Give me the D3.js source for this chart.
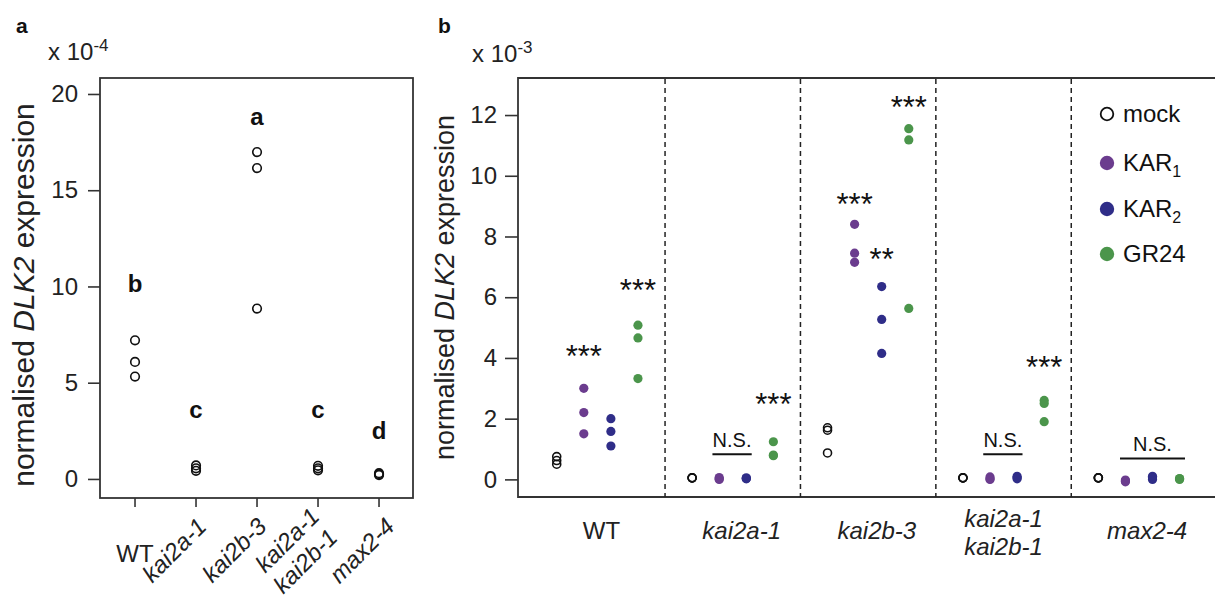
<!DOCTYPE html>
<html>
<head>
<meta charset="utf-8">
<script src="https://cdn.jsdelivr.net/npm/d3@7"></script>
<style>
  html, body { margin: 0; padding: 0; background: #fff; }
  svg { display: block; font-family: "Liberation Sans", Arial, Helvetica, sans-serif; }
</style>
</head>
<body>
<svg id="chart" width="1215" height="598"></svg>
<script>
// ---------------- DATA ----------------
// Panel a
const aCategories = [["WT"], ["kai2a-1"], ["kai2b-3"], ["kai2a-1", "kai2b-1"], ["max2-4"]];
const aValues = [
  [7.2, 6.08, 5.32],
  [0.7, 0.55, 0.42],
  [16.98, 16.15, 8.85],
  [0.68, 0.55, 0.45],
  [0.3, 0.25, 0.2]
];
const aLetters = ["b", "c", "a", "c", "d"];
const aLetterValues = [9.7, 3.15, 18.4, 3.15, 2.06];
const aTicks = [0, 5, 10, 15, 20];

// Panel b
const bGroups = [["WT"], ["kai2a-1"], ["kai2b-3"], ["kai2a-1", "kai2b-1"], ["max2-4"]];
const bTreatments = ["mock", "KAR1", "KAR2", "GR24"];
const bMock = [[0.75, 0.62, 0.5], [0.05, 0.05, 0.05], [1.7, 1.62, 0.87], [0.05, 0.05, 0.05], [0.05, 0.05, 0.05]];
const bKAR1 = [[3.0, 2.2, 1.5], [0.02, 0.06, 0.0], [8.4, 7.45, 7.15], [0.0, 0.08, 0.02], [-0.05, -0.02, -0.08]];
const bKAR2 = [[2.0, 1.58, 1.1], [0.03, 0.05, 0.02], [6.35, 5.27, 4.15], [0.05, 0.1, 0.02], [0.0, 0.1, 0.05]];
const bGR24 = [[5.08, 4.66, 3.32], [1.24, 0.8, 0.78], [11.55, 11.18, 5.63], [2.6, 2.5, 1.9], [0.02, 0.0, 0.03]];
const bTicks = [0, 2, 4, 6, 8, 10, 12];
// significance stars: group, treatment index, value at glyph centre
const bStars = [
  { g: 0, t: 1, v: 4.3, s: "***" },
  { g: 0, t: 3, v: 6.45, s: "***" },
  { g: 1, t: 3, v: 2.7, s: "***" },
  { g: 2, t: 1, v: 9.3, s: "***" },
  { g: 2, t: 2, v: 7.48, s: "**" },
  { g: 2, t: 3, v: 12.48, s: "***" },
  { g: 3, t: 3, v: 3.92, s: "***" }
];
// N.S. annotations: group, bar from/to treatment index, text value, line value
const bNS = [
  { g: 1, from: 0.75, to: 2.2, tv: 1.31, lv: 0.83 },
  { g: 3, from: 0.75, to: 2.2, tv: 1.31, lv: 0.83 },
  { g: 4, from: 0.8, to: 3.2, tv: 1.18, lv: 0.69 }
];
const legendLabels = [["mock", ""], ["KAR", "1"], ["KAR", "2"], ["GR24", ""]];

// ---------------- STYLE ----------------
const colors = { mock: "none", KAR1: "#6b3c8e", KAR2: "#2f2d88", GR24: "#4b954b" };
const axisColor = "#333";

const svg = d3.select("#chart");

// ================= PANEL A =================
const aX = d3.scaleLinear().domain([-0.574, 4.557]).range([100, 413]);
const aY = d3.scaleLinear().domain([-0.99, 20.83]).range([498, 78]);

const gA = svg.append("g");
gA.append("rect").attr("x", aX.range()[0]).attr("y", aY.range()[1])
  .attr("width", aX.range()[1] - aX.range()[0]).attr("height", aY.range()[0] - aY.range()[1])
  .attr("fill", "none").attr("stroke", axisColor).attr("stroke-width", 1.8);

const aYAxis = gA.append("g").attr("transform", `translate(${aX.range()[0]},0)`)
  .call(d3.axisLeft(aY).tickValues(aTicks).tickSize(12).tickPadding(10).tickFormat(d3.format("d")));
aYAxis.select(".domain").remove();
aYAxis.selectAll("line").attr("stroke", axisColor).attr("stroke-width", 1.6);
aYAxis.selectAll("text").attr("font-size", 24).attr("fill", "#222").attr("font-family", "Liberation Sans, Arial, sans-serif");

// x ticks
gA.selectAll(".xtick").data(aCategories).enter().append("line")
  .attr("x1", (d, i) => aX(i)).attr("x2", (d, i) => aX(i))
  .attr("y1", 498).attr("y2", 507).attr("stroke", axisColor).attr("stroke-width", 1.6);

// x labels
const aLabelNudge = [0, 12, 11, 0, 17];
aCategories.forEach((lines, i) => {
  const x = aX(i);
  if (i === 0) {
    gA.append("text").attr("x", x).attr("y", 562).attr("text-anchor", "middle")
      .attr("font-size", 24).attr("fill", "#222").text(lines[0]);
  } else if (lines.length === 1) {
    gA.append("text").attr("transform", `translate(${x + aLabelNudge[i]},${528}) rotate(-45)`)
      .attr("text-anchor", "end").attr("font-size", 24).attr("font-style", "italic").attr("fill", "#222").text(lines[0]);
  } else {
    gA.append("text").attr("transform", `translate(${x + 3},${518}) rotate(-45)`)
      .attr("text-anchor", "end").attr("font-size", 24).attr("font-style", "italic").attr("fill", "#222").text(lines[0]);
    gA.append("text").attr("transform", `translate(${x + 21},${539}) rotate(-45)`)
      .attr("text-anchor", "end").attr("font-size", 24).attr("font-style", "italic").attr("fill", "#222").text(lines[1]);
  }
});

// points
aValues.forEach((vals, i) => {
  gA.selectAll(null).data(vals).enter().append("circle")
    .attr("cx", aX(i)).attr("cy", d => aY(d)).attr("r", 4.3)
    .attr("fill", "none").attr("stroke", "#111").attr("stroke-width", 1.6);
});
// letters
gA.selectAll(".lett").data(aLetters).enter().append("text")
  .attr("x", (d, i) => aX(i)).attr("y", (d, i) => aY(aLetterValues[i]))
  .attr("text-anchor", "middle").attr("font-weight", "bold").attr("font-size", 24).attr("fill", "#111").text(d => d);

// axis title
const aTitle = gA.append("text").attr("transform", `translate(34,${295}) rotate(-90)`)
  .attr("text-anchor", "middle").attr("font-size", 30).attr("fill", "#222");
aTitle.append("tspan").text("normalised ");
aTitle.append("tspan").attr("font-style", "italic").text("DLK2");
aTitle.append("tspan").text(" expression");

// multiplier
const aMul = gA.append("text").attr("x", 48).attr("y", 60).attr("font-size", 24).attr("fill", "#222");
aMul.append("tspan").text("x 10");
aMul.append("tspan").attr("font-size", 17).attr("dy", -9).text("-4");

// panel letter
svg.append("text").attr("x", 16).attr("y", 33).attr("font-weight", "bold").attr("font-size", 21).attr("fill", "#111").text("a");

// ================= PANEL B =================
const bX = d3.scaleLinear().domain([-1.43, 24.5]).range([518, 1220.2]);
const bY = d3.scaleLinear().domain([-0.58, 13.22]).range([497, 78]);
const kOf = (g, t) => g * 5 + t;

const gB = svg.append("g");
// frame (right edge falls outside the canvas)
gB.append("path")
  .attr("d", `M${bX.range()[1]},${bY.range()[1]} H${bX.range()[0]} V${bY.range()[0]} H${bX.range()[1]}`)
  .attr("fill", "none").attr("stroke", axisColor).attr("stroke-width", 1.8);

const bYAxis = gB.append("g").attr("transform", `translate(${bX.range()[0]},0)`)
  .call(d3.axisLeft(bY).tickValues(bTicks).tickSize(13).tickPadding(8).tickFormat(d3.format("d")));
bYAxis.select(".domain").remove();
bYAxis.selectAll("line").attr("stroke", axisColor).attr("stroke-width", 1.6);
bYAxis.selectAll("text").attr("font-size", 24).attr("fill", "#222").attr("font-family", "Liberation Sans, Arial, sans-serif");

// dashed separators
gB.selectAll(".sep").data(d3.range(1, bGroups.length)).enter().append("line")
  .attr("x1", g => bX(g * 5 - 1)).attr("x2", g => bX(g * 5 - 1))
  .attr("y1", bY.range()[1] + 1).attr("y2", bY.range()[0])
  .attr("stroke", "#222").attr("stroke-width", 1.5).attr("stroke-dasharray", "5,4");

// points
const seriesData = { mock: bMock, KAR1: bKAR1, KAR2: bKAR2, GR24: bGR24 };
bTreatments.forEach((tr, t) => {
  seriesData[tr].forEach((vals, g) => {
    const sel = gB.selectAll(null).data(vals).enter().append("circle")
      .attr("cx", bX(kOf(g, t))).attr("cy", d => bY(d));
    if (tr === "mock") {
      sel.attr("r", 4).attr("fill", "#fff").attr("stroke", "#111").attr("stroke-width", 1.6).attr("fill-opacity", 0);
    } else {
      sel.attr("r", 4.6).attr("fill", colors[tr]);
    }
  });
});

// stars
const starFs = 31;
gB.selectAll(".star").data(bStars).enter().append("text")
  .attr("x", d => bX(kOf(d.g, d.t))).attr("y", d => bY(d.v) + 0.57 * starFs)
  .attr("text-anchor", "middle").attr("font-size", starFs).attr("fill", "#111").text(d => d.s);

// N.S.
bNS.forEach(d => {
  const xc = (bX(kOf(d.g, d.from)) + bX(kOf(d.g, d.to))) / 2;
  gB.append("text").attr("x", xc).attr("y", bY(d.tv) + 7).attr("text-anchor", "middle")
    .attr("font-size", 20).attr("fill", "#111").text("N.S.");
  gB.append("line").attr("x1", bX(kOf(d.g, d.from))).attr("x2", bX(kOf(d.g, d.to)))
    .attr("y1", bY(d.lv)).attr("y2", bY(d.lv)).attr("stroke", "#111").attr("stroke-width", 2);
});

// group labels
const labelShift = [0.15, 0.33, 0.32, 0, 0.3];
bGroups.forEach((lines, g) => {
  const x = bX(kOf(g, 1.5) + labelShift[g]);
  if (lines.length === 1) {
    gB.append("text").attr("x", x).attr("y", 539).attr("text-anchor", "middle").attr("font-size", 24)
      .attr("font-style", g === 0 ? "normal" : "italic").attr("fill", "#222").text(lines[0]);
  } else {
    gB.append("text").attr("x", x).attr("y", 527).attr("text-anchor", "middle").attr("font-size", 24)
      .attr("font-style", "italic").attr("fill", "#222").text(lines[0]);
    gB.append("text").attr("x", x).attr("y", 555).attr("text-anchor", "middle").attr("font-size", 24)
      .attr("font-style", "italic").attr("fill", "#222").text(lines[1]);
  }
});

// legend
const legY = [114, 163, 209, 254];
bTreatments.forEach((tr, i) => {
  const c = gB.append("circle").attr("cx", 1107).attr("cy", legY[i]);
  if (tr === "mock") c.attr("r", 6.3).attr("fill", "none").attr("stroke", "#111").attr("stroke-width", 1.8);
  else c.attr("r", 7.2).attr("fill", colors[tr]);
  const t = gB.append("text").attr("x", 1123).attr("y", legY[i] + 8).attr("font-size", 24).attr("fill", "#111");
  t.append("tspan").text(legendLabels[i][0]);
  if (legendLabels[i][1]) t.append("tspan").attr("font-size", 16).attr("dy", 6).text(legendLabels[i][1]);
});

// axis title
const bTitle = gB.append("text").attr("transform", `translate(454,${(bY.range()[0] + bY.range()[1]) / 2}) rotate(-90)`)
  .attr("text-anchor", "middle").attr("font-size", 27).attr("fill", "#222");
bTitle.append("tspan").text("normalised ");
bTitle.append("tspan").attr("font-style", "italic").text("DLK2");
bTitle.append("tspan").text(" expression");

// multiplier
const bMul = gB.append("text").attr("x", 472).attr("y", 62).attr("font-size", 24).attr("fill", "#222");
bMul.append("tspan").text("x 10");
bMul.append("tspan").attr("font-size", 17).attr("dy", -9).text("-3");

svg.append("text").attr("x", 438).attr("y", 33).attr("font-weight", "bold").attr("font-size", 21).attr("fill", "#111").text("b");
</script>
</body>
</html>
